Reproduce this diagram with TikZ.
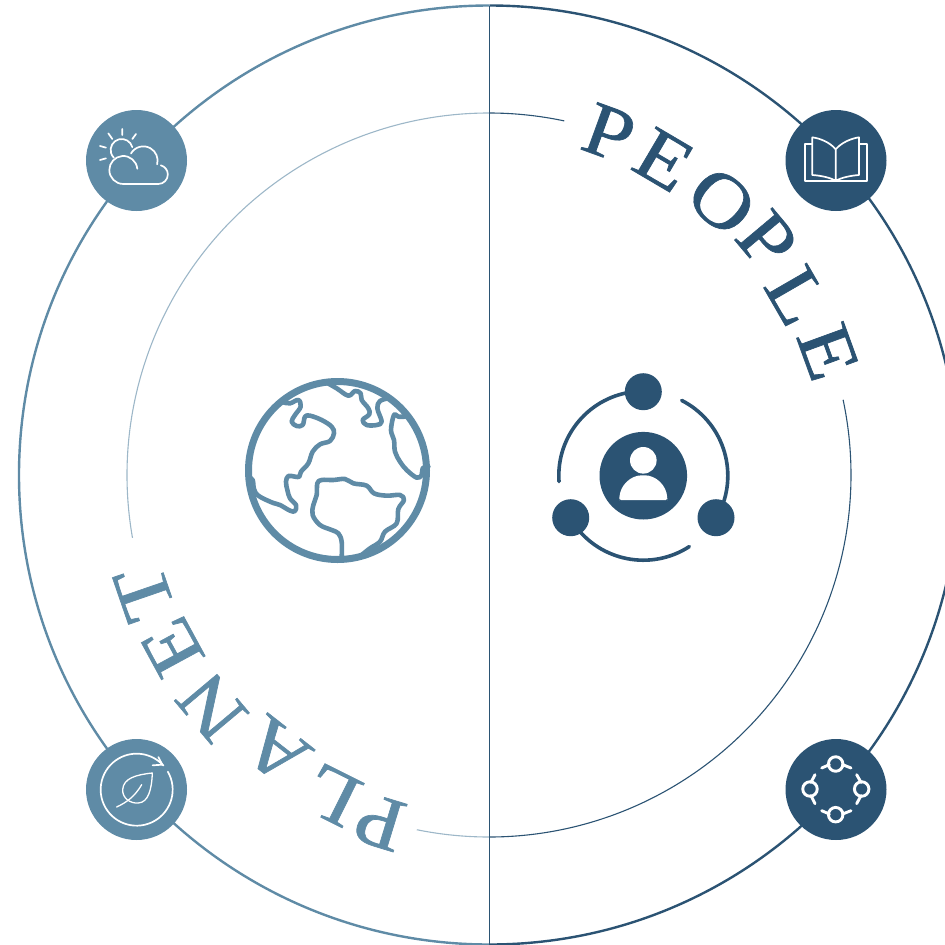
\documentclass[tikz,border=0pt]{standalone}
\usepackage{fontspec}
\setmainfont[FakeStretch=1.13,FakeBold=0.9]{Liberation Serif}
\definecolor{deep}{HTML}{2B5373}
\definecolor{soft}{HTML}{5F8BA6}
\definecolor{softthin}{HTML}{9DB7C8}
\tikzset{
  x=1pt,y=-1pt,
  outerarc/.style={line width=2.4pt},
  innerarc/.style={line width=1.1pt},
  badge/.style={circle,minimum size=101pt,inner sep=0pt,draw=none},
  letter/.style={inner sep=0pt,outer sep=0pt,text depth=0pt,font=\fontsize{76}{76}\selectfont},
  thinwhite/.style={draw=white,line width=1.7pt,line cap=round,line join=round},
  iconz/.style={x=0.33333pt,y=-0.33333pt},
}
\begin{document}
\begin{tikzpicture}
\useasboundingbox (0,0) rectangle (945,945);
\clip (0,0) rectangle (945,945);
\coordinate (top) at (489.5,5.5);
\coordinate (bot) at (489.5,944.5);
\coordinate (itop) at (489,113);
\coordinate (ibot) at (489,837);
% outer ring
\draw[outerarc,deep] (top) arc[start angle=90,end angle=-90,radius=469.5pt];
\draw[outerarc,soft] (top) .. controls (230,5.5) and (19,215) .. (19,475) .. controls (19,735) and (230,944.5) .. (bot);
% inner ring
\draw[innerarc,deep] (itop) arc[start angle=90,end angle=78,radius=362pt];
\draw[innerarc,deep] (ibot) arc[start angle=-90,end angle=12,radius=362pt];
\draw[innerarc,softthin] (itop) arc[start angle=90,end angle=190,radius=362pt];
\draw[innerarc,softthin] (ibot) arc[start angle=270,end angle=258.5,radius=362pt];
% axis
\draw[deep,line width=1.2pt] (top) -- (bot);
% badges
\node[badge,fill=soft] (bsky) at (136.5,160.5) {};
\node[badge,fill=deep] (bbook) at (836,160.5) {};
\node[badge,fill=soft] (bleaf) at (136.5,789.5) {};
\node[badge,fill=deep] (bnet) at (836,789.5) {};
% PEOPLE
\begin{scope}[text=deep]
\node[letter,rotate=-20] (p1) at (609,133) {P};
\node[letter,rotate=-30.5] (p2) at (664,160) {E};
\node[letter,rotate=-41] (p3) at (722,201) {O};
\node[letter,rotate=-50] (p4) at (767,240) {P};
\node[letter,rotate=-60] (p5) at (797,296) {L};
\node[letter,rotate=-70] (p6) at (828,352) {E};
\end{scope}
% PLANET
\begin{scope}[text=soft]
\node[letter,rotate=163] (l1) at (380,822) {P};
\node[letter,rotate=153.5] (l2) at (332,795) {L};
\node[letter,rotate=142] (l3) at (276,751) {A};
\node[letter,rotate=130] (l4) at (212,707) {N};
\node[letter,rotate=118.5] (l5) at (172,647) {E};
\node[letter,rotate=109] (l6) at (144,593) {T};
\end{scope}
% globe
\begin{scope}[shift={(230pt,-365pt)},iconz,draw=soft,line cap=round,line join=round]
\node[circle,draw=soft,line width=7pt,minimum size=178pt,inner sep=0pt] (globe) at (322.5,316.5) {};
\begin{scope}[line width=4.6pt]
\draw plot[smooth,tension=.6] coordinates {(285,50)(320,70)(355,92)(375,78)(392,85)(395,105)(415,130)(418,148)(398,165)(410,180)(440,180)(455,170)(442,130)(450,108)(475,100)};
\draw plot[smooth,tension=.6] coordinates {(160,112)(180,115)(205,105)(212,125)(195,150)(185,170)(200,183)(218,180)(225,155)(240,152)(275,165)(305,185)(312,205)(300,228)(270,238)(248,260)(235,295)(213,320)(208,335)(195,335)(175,333)(168,350)(172,375)(180,400)(198,420)(195,438)(180,437)(150,420)(125,412)(85,392)(72,372)(68,345)(55,335)};
\draw plot[smooth,tension=.6] coordinates {(335,578)(335,530)(325,505)(305,495)(270,480)(248,450)(250,420)(260,390)(262,355)(275,345)(310,345)(345,342)(370,355)(410,362)(432,385)(470,392)(510,390)(522,405)(505,432)(500,475)(465,500)(450,530)(420,550)(395,570)};
\draw plot[smooth,tension=.6] coordinates {(525,155)(505,155)(492,150)(483,195)(492,225)(495,260)(510,290)(530,315)(560,338)(575,330)(578,310)(595,305)};
\end{scope}
\end{scope}
% people icon
\node[circle,fill=deep,minimum size=87.6pt,inner sep=0pt] (hub) at (643.3,475.7) {};
\node[circle,fill=white,minimum size=26.6pt,inner sep=0pt] (head) at (643.3,460.3) {};
\fill[white,rounded corners=1.5pt] (619.3,500) -- (619.3,499) .. controls (620,485) and (631,475.3) .. (643.3,475.3) .. controls (655.6,475.3) and (666.6,485) .. (667.3,499) -- (667.3,500) -- cycle;
\node[circle,fill=deep,minimum size=37pt,inner sep=0pt] (sat1) at (643.3,391.7) {};
\node[circle,fill=deep,minimum size=37pt,inner sep=0pt] (sat2) at (716,517.7) {};
\node[circle,fill=deep,minimum size=37pt,inner sep=0pt] (sat3) at (570.7,517.7) {};
\begin{scope}[draw=deep,line width=3.6pt,line cap=round]
\draw ([shift={(hub.center)}]184:84.5pt) arc[start angle=184,end angle=95,radius=84.5pt];
\draw ([shift={(hub.center)}]63:84.5pt) arc[start angle=63,end angle=-25,radius=84.5pt];
\draw ([shift={(hub.center)}]-57:84.5pt) arc[start angle=-57,end angle=-145,radius=84.5pt];
\end{scope}
% sun and cloud
\begin{scope}[shift={(80pt,-105pt)},iconz]
\draw[thinwhite] ([shift={(125,135)}]15:11pt) arc[start angle=15,end angle=225,radius=11pt];
\draw[thinwhite] (127,72)--(127,90) (85,85)--(97,102) (168,87)--(157,102) (60,123)--(78,128) (60,165)--(78,160);
\draw[thinwhite] ([shift={(130,195)}]5:14pt) arc[start angle=5,end angle=180,radius=14pt] arc[start angle=180,end angle=270,radius=14pt] -- (235,237) arc[start angle=-90,end angle=75,radius=9.5pt];
\draw[thinwhite] ([shift={(190,167)}]150:14.3pt) arc[start angle=150,end angle=-15,radius=14.3pt];
\end{scope}
% book
\begin{scope}[shift={(780pt,-105pt)},iconz]
\draw[thinwhite] (95,117)--(75,117)--(75,227)--(262,227)--(262,117)--(238,117);
\draw[thinwhite] (167,133) .. controls (150,112) and (120,100) .. (97,97) -- (97,210) .. controls (125,212) and (150,218) .. (167,227) .. controls (185,218) and (210,212) .. (237,210) -- (237,97) .. controls (215,100) and (185,112) .. (167,133) -- (167,227);
\end{scope}
% leaf
\begin{scope}[shift={(80pt,-733pt)},iconz]
\draw[thinwhite] ([shift={(170,170)}]30:36pt) arc[start angle=30,end angle=-318,radius=36pt];
\draw[thinwhite] (235,72)--(247,95)--(218,97);
\draw[thinwhite,line width=1.3pt] (217,120) .. controls (170,125) and (130,135) .. (128,170) .. controls (127,195) and (150,212) .. (175,210) .. controls (205,208) and (215,170) .. (217,120) -- cycle;
\draw[thinwhite,line width=1.3pt] (110,222) .. controls (140,208) and (165,190) .. (185,155);
\end{scope}
% network
\begin{scope}[shift={(780pt,-733pt)},iconz,draw=white,line width=2.9pt,line cap=round]
\node[circle,draw=white,line width=2.9pt,minimum size=14.5pt,inner sep=0pt] (n1) at (167,93) {};
\node[circle,draw=white,line width=2.9pt,minimum size=14.5pt,inner sep=0pt] (n2) at (90,168) {};
\node[circle,draw=white,line width=2.9pt,minimum size=14.5pt,inner sep=0pt] (n3) at (245,168) {};
\node[circle,draw=white,line width=2.9pt,minimum size=14.5pt,inner sep=0pt] (n4) at (167,245) {};
\draw (125,105)--(148,95) (188,95)--(213,105);
\draw (105,125)--(93,148) (93,188)--(105,212);
\draw (230,125)--(243,148) (243,188)--(230,212);
\draw (125,233)--(148,243) (188,243)--(213,233);
\end{scope}
\end{tikzpicture}
\end{document}
